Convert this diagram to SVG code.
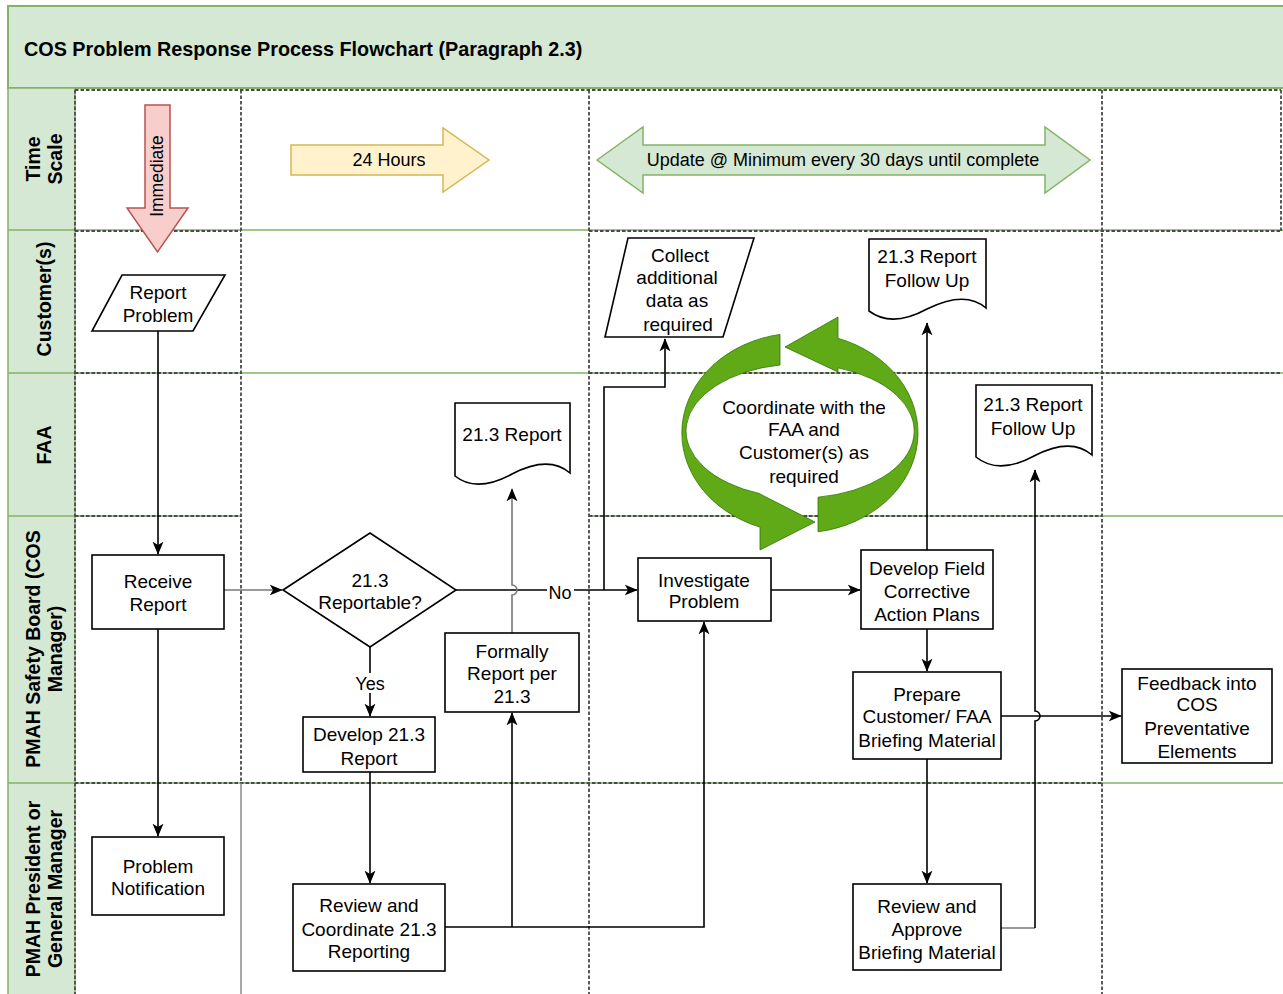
<svg xmlns="http://www.w3.org/2000/svg" width="1283" height="994" viewBox="0 0 1283 994">
<defs>
<style>
.t{font-family:"Liberation Sans",Arial,sans-serif;font-size:19px;fill:#000;text-anchor:middle}
.lbl{font-family:"Liberation Sans",Arial,sans-serif;font-size:19.5px;font-weight:bold;fill:#000;text-anchor:middle}
.box{fill:#fff;stroke:#000;stroke-width:1.6}
.dash{stroke:#4a4a4a;stroke-width:1.8;stroke-dasharray:3.5 2;fill:none}
.lane{stroke:#82b366;stroke-width:1.5;fill:none}
.edge{stroke:#000;stroke-width:1.6;fill:none}
.arr{marker-end:url(#arr)}
.gray{stroke:#777}
.cyc{fill:#60a917;stroke:#2d7600;stroke-width:0.8}
</style>
<marker id="arr" viewBox="0 0 10 10" refX="9.5" refY="5" markerWidth="13" markerHeight="13" markerUnits="userSpaceOnUse" orient="auto">
<path d="M0,0.8 L10,5 L0,9.2 L2.6,5 Z" fill="#000"/>
</marker>
</defs>

<rect x="0" y="0" width="1283" height="994" fill="#fff"/>

<g id="pool">
<rect x="8" y="6" width="1285" height="82" fill="#d5e8d4" stroke="#82b366" stroke-width="2"/>
<text x="24" y="56" class="lbl" style="text-anchor:start;font-size:19.8px">COS Problem Response Process Flowchart (Paragraph 2.3)</text>
<rect x="8" y="88" width="67" height="910" fill="#d5e8d4" stroke="#82b366" stroke-width="1.5"/>
<line class="lane" x1="8" y1="230" x2="1283" y2="230"/>
<line class="lane" x1="8" y1="373" x2="1283" y2="373"/>
<line class="lane" x1="8" y1="516" x2="241" y2="516"/>
<line class="lane" x1="589" y1="516" x2="1283" y2="516"/>
<line class="lane" x1="8" y1="783" x2="1283" y2="783"/>
<text class="lbl" transform="translate(42,159) rotate(-90)"><tspan x="0" y="-2">Time</tspan><tspan x="0" y="20">Scale</tspan></text>
<text class="lbl" transform="translate(42,299) rotate(-90)"><tspan x="0" y="9">Customer(s)</tspan></text>
<text class="lbl" transform="translate(42,445) rotate(-90)"><tspan x="0" y="9">FAA</tspan></text>
<text class="lbl" transform="translate(42,649) rotate(-90)"><tspan x="0" y="-2">PMAH Safety Board (COS</tspan><tspan x="0" y="20">Manager)</tspan></text>
<text class="lbl" transform="translate(42,889) rotate(-90)"><tspan x="0" y="-2">PMAH President or</tspan><tspan x="0" y="20">General Manager</tspan></text>
</g>

<g id="grid">
<line class="dash" x1="75" y1="90" x2="1281" y2="90"/>
<line class="dash" x1="75" y1="231" x2="241" y2="231"/>
<line class="dash" x1="589" y1="231" x2="1281" y2="231"/>
<line class="dash" x1="75" y1="373" x2="241" y2="373"/>
<line class="dash" x1="589" y1="373" x2="1281" y2="373"/>
<line class="dash" x1="75" y1="516" x2="241" y2="516"/>
<line class="dash" x1="589" y1="516" x2="1102" y2="516"/>
<line class="dash" x1="75" y1="783" x2="1102" y2="783"/>
<line class="dash" x1="75" y1="90" x2="75" y2="994"/>
<line class="dash" x1="241" y1="90" x2="241" y2="783"/>
<line x1="241" y1="783" x2="241" y2="994" stroke="#888" stroke-width="1.5"/>
<line class="dash" x1="589" y1="90" x2="589" y2="994"/>
<line class="dash" x1="1102" y1="90" x2="1102" y2="994"/>
<line class="dash" x1="1281" y1="90" x2="1281" y2="231"/>
</g>

<g id="time-immediate">
<polygon points="145,105 170,105 170,208 188,208 157.5,252 127,208 145,208" fill="#f8cecc" stroke="#b85450" stroke-width="1.5"/>
<text class="t" style="font-size:17.5px" transform="translate(157,176) rotate(-90)" x="0" y="6">Immediate</text>
</g>
<g id="time-24h">
<polygon points="291,145 443,145 443,128 489,160 443,192 443,175 291,175" fill="#fff2cc" stroke="#d6b656" stroke-width="1.5"/>
<text class="t" x="389" y="166" style="font-size:18px">24 Hours</text>
</g>
<g id="time-update">
<polygon points="597,160 643,127 643,145 1045,145 1045,127 1090,160 1045,193 1045,175 643,175 643,193" fill="#d5e8d4" stroke="#82b366" stroke-width="1.5"/>
<text class="t" x="843" y="166" style="font-size:18px">Update @ Minimum every 30 days until complete</text>
</g>

<g id="cycle">
<path class="cyc" d="M780,334.4 A118,100 0 0 0 760,527.1 L760,550 L815,522 L760,494 L760,493.7 A114,67 0 0 1 780,365 Z"/>
<path class="cyc" d="M818,531.8 A118,100 0 0 0 838,338.3 L838,317 L785,347 L838,372 L838,367.8 A114,67 0 0 1 818,497.2 Z"/>
<text class="t"><tspan x="804" y="414">Coordinate with the</tspan><tspan x="804" y="436">FAA and</tspan><tspan x="804" y="459">Customer(s) as</tspan><tspan x="804" y="483">required</tspan></text>
</g>

<g id="connectors">
<path class="edge arr" d="M158,331 V554"/>
<path class="edge arr" d="M158,629 V836"/>
<path class="edge gray arr" d="M224,590 H282"/>
<path class="edge arr" d="M456,590 H637"/>
<path class="edge arr" d="M370,647 V716"/>
<path class="edge arr" d="M370,772 V883"/>
<path class="edge arr" d="M445,927 H704 V622"/>
<path class="edge arr" d="M512,927 V713"/>
<path class="edge gray arr" d="M512,633 V595 A5,5 0 0 0 512,585 V489"/>
<path class="edge arr" d="M604,590 V387 H665 V339"/>
<path class="edge arr" d="M771,590 H860"/>
<path class="edge arr" d="M927,550 V323"/>
<path class="edge arr" d="M927,629 V671"/>
<path class="edge arr" d="M927,759 V883"/>
<path class="edge arr" d="M1001,716 H1121"/>
<path class="edge gray" d="M1001,928 H1035"/>
<path class="edge arr" d="M1035,928 V721 A5,5 0 0 0 1035,711 V470"/>
<rect x="353" y="673" width="34" height="20" fill="#fff"/>
<text class="t" x="370" y="690" style="font-size:18px">Yes</text>
<rect x="547" y="581" width="27" height="20" fill="#fff"/>
<text class="t" x="560" y="599" style="font-size:18px">No</text>
</g>

<g id="report-problem">
<polygon class="box" points="122,275 225,275 193,331 92,331"/>
<text class="t"><tspan x="158" y="299">Report</tspan><tspan x="158" y="322">Problem</tspan></text>
</g>
<g id="receive-report">
<rect class="box" x="92" y="555" width="132" height="74"/>
<text class="t"><tspan x="158" y="588">Receive</tspan><tspan x="158" y="611">Report</tspan></text>
</g>
<g id="problem-notification">
<rect class="box" x="92" y="837" width="132" height="78"/>
<text class="t"><tspan x="158" y="873">Problem</tspan><tspan x="158" y="895">Notification</tspan></text>
</g>
<g id="reportable">
<polygon class="box" points="283,590 370,533 456,590 370,647"/>
<text class="t"><tspan x="370" y="587">21.3</tspan><tspan x="370" y="609">Reportable?</tspan></text>
</g>
<g id="develop-213">
<rect class="box" x="303" y="717" width="132" height="55"/>
<text class="t"><tspan x="369" y="741">Develop 21.3</tspan><tspan x="369" y="765">Report</tspan></text>
</g>
<g id="review-coordinate">
<rect class="box" x="293" y="884" width="152" height="87"/>
<text class="t"><tspan x="369" y="912">Review and</tspan><tspan x="369" y="936">Coordinate 21.3</tspan><tspan x="369" y="958">Reporting</tspan></text>
</g>
<g id="formally-report">
<rect class="box" x="445" y="633" width="134" height="79"/>
<text class="t"><tspan x="512" y="658">Formally</tspan><tspan x="512" y="680">Report per</tspan><tspan x="512" y="703">21.3</tspan></text>
</g>
<g id="report-doc">
<path class="box" d="M455,403 H570 V473 C555,460 535,462 512,474 C490,486 470,488 455,476 Z"/>
<text class="t" x="512" y="441">21.3 Report</text>
</g>
<g id="collect-data">
<polygon class="box" points="628,238 754,238 723,337 605,337"/>
<text class="t"><tspan x="680" y="262">Collect</tspan><tspan x="677" y="284">additional</tspan><tspan x="677" y="307">data as</tspan><tspan x="678" y="331">required</tspan></text>
</g>
<g id="followup-customer">
<path class="box" d="M869,239 H986 V308 C971,295 951,297 927,309 C905,321 885,323 869,311 Z"/>
<text class="t"><tspan x="927" y="263">21.3 Report</tspan><tspan x="927" y="287">Follow Up</tspan></text>
</g>
<g id="followup-faa">
<path class="box" d="M976,385 H1092 V455 C1077,442 1057,444 1034,456 C1012,468 992,470 976,457 Z"/>
<text class="t"><tspan x="1033" y="411">21.3 Report</tspan><tspan x="1033" y="435">Follow Up</tspan></text>
</g>
<g id="investigate">
<rect class="box" x="638" y="558" width="133" height="63"/>
<text class="t"><tspan x="704" y="587">Investigate</tspan><tspan x="704" y="608">Problem</tspan></text>
</g>
<g id="develop-field">
<rect class="box" x="861" y="550" width="132" height="79"/>
<text class="t"><tspan x="927" y="575">Develop Field</tspan><tspan x="927" y="598">Corrective</tspan><tspan x="927" y="621">Action Plans</tspan></text>
</g>
<g id="prepare-briefing">
<rect class="box" x="853" y="672" width="148" height="87"/>
<text class="t"><tspan x="927" y="701">Prepare</tspan><tspan x="927" y="723">Customer/ FAA</tspan><tspan x="927" y="747">Briefing Material</tspan></text>
</g>
<g id="review-approve">
<rect class="box" x="853" y="884" width="148" height="86"/>
<text class="t"><tspan x="927" y="913">Review and</tspan><tspan x="927" y="936">Approve</tspan><tspan x="927" y="959">Briefing Material</tspan></text>
</g>
<g id="feedback">
<rect class="box" x="1122" y="669" width="150" height="94"/>
<text class="t"><tspan x="1197" y="690">Feedback into</tspan><tspan x="1197" y="711">COS</tspan><tspan x="1197" y="735">Preventative</tspan><tspan x="1197" y="758">Elements</tspan></text>
</g>
</svg>
